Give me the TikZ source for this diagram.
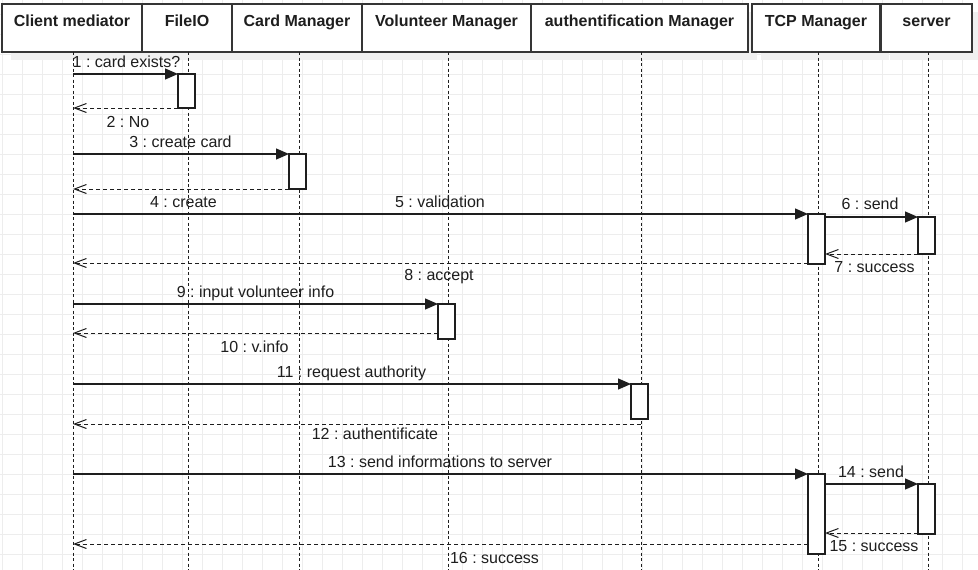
\documentclass[tikz,border=0pt]{standalone}
\usepackage{fontspec}
\setmainfont{Liberation Sans}
\usetikzlibrary{arrows.meta,calc}
\definecolor{gridc}{HTML}{EDEDED}
\definecolor{ink}{HTML}{1E1E1E}
\definecolor{shadowc}{HTML}{F0F0F0}
\frenchspacing
\begin{document}
\begin{tikzpicture}[x=1pt,y=-1pt,
  gridline/.style={gridc, line width=1pt},
  hdr/.style={draw=ink!90, line width=1.3pt, fill=white, minimum height=48pt, inner sep=0pt, outer sep=0pt, anchor=north west},
  hshadow/.style={fill=shadowc, draw=none, minimum height=48pt, inner sep=0pt, outer sep=0pt, anchor=north west},
  htxt/.style={font=\fontsize{16pt}{19pt}\selectfont\bfseries, text=ink, anchor=base, inner sep=0pt},
  lifeline/.style={ink, line width=1pt, dash pattern=on 3pt off 2.5pt},
  act/.style={draw=ink, line width=1.3pt, fill=white, minimum width=17pt, inner sep=0pt, outer sep=0pt, anchor=north west},
  msg/.style={ink, line width=1.2pt, -{Triangle[length=13pt,width=11pt]}},
  ret/.style={ink, line width=1pt, dash pattern=on 4pt off 3pt, -{Straight Barb[length=12pt,width=9pt,line width=1pt]}},
  mlab/.style={font=\fontsize{16pt}{19pt}\selectfont, text=ink, anchor=base, inner sep=0pt}]
\useasboundingbox (0,0) rectangle (978,570);
\fill[white] (0,0) rectangle (978,570);
% grid
\foreach \i in {0,...,48} \draw[gridline] (2.5+20*\i,0) -- (2.5+20*\i,570);
\foreach \j in {0,...,27} \draw[gridline] (0,14+20*\j) -- (978,14+20*\j);
% header shadows
\node[hshadow, minimum width=140pt] (s1) at (11,12) {};
\node[hshadow, minimum width=90pt]  (s2) at (151,12) {};
\node[hshadow, minimum width=130pt] (s3) at (241,12) {};
\node[hshadow, minimum width=169pt] (s4) at (371,12) {};
\node[hshadow, minimum width=217pt] (s5) at (540,12) {};
\node[hshadow, minimum width=128pt] (s6) at (761,12) {};
\node[hshadow, minimum width=91pt]  (s7) at (890,12) {};
% headers
\node[hdr, minimum width=140pt] (h1) at (2,4) {};
\node[hdr, minimum width=90pt]  (h2) at (142,4) {};
\node[hdr, minimum width=130pt] (h3) at (232,4) {};
\node[hdr, minimum width=169pt] (h4) at (362,4) {};
\node[hdr, minimum width=217pt] (h5) at (531,4) {};
\node[hdr, minimum width=128pt] (h6) at (752,4) {};
\node[hdr, minimum width=91pt]  (h7) at (881,4) {};
\node[htxt] (t1) at ($(h1.north)+(0,22)$) {Client mediator};
\node[htxt] (t2) at ($(h2.north)+(0,22)$) {FileIO};
\node[htxt] (t3) at ($(h3.north)+(0,22)$) {Card Manager};
\node[htxt] (t4) at ($(h4.north)+(0,22)$) {Volunteer Manager};
\node[htxt] (t5) at ($(h5.north)+(0,22)$) {authentification Manager};
\node[htxt] (t6) at ($(h6.north)+(0,22)$) {TCP Manager};
\node[htxt] (t7) at ($(h7.north)+(0,22)$) {server};
% lifelines
\coordinate (L1) at (73,52);
\coordinate (L2) at (188,52);
\coordinate (L3) at (299,52);
\coordinate (L4) at (448,52);
\coordinate (L5) at (641,52);
\coordinate (L6) at (818,52);
\coordinate (L7) at (928,52);
\coordinate (bottom) at (0,570);
\foreach \n in {1,...,7} \draw[lifeline] (L\n) -- (L\n |- bottom);
% activation boxes
\node[act, minimum height=34pt] (a1) at (178,74) {};
\node[act, minimum height=35pt] (a2) at (289,154) {};
\node[act, minimum height=50pt] (a3) at (808,214) {};
\node[act, minimum height=37pt] (a4) at (918,217) {};
\node[act, minimum height=35pt] (a5) at (438,304) {};
\node[act, minimum height=35pt] (a6) at (631,384) {};
\node[act, minimum height=80pt] (a7) at (808,474) {};
\node[act, minimum height=50pt] (a8) at (918,484) {};
% messages
\draw[msg] (a1.north west -| L1) -- (a1.north west);
\draw[ret] (a1.south west) -- (a1.south west -| L1);
\draw[msg] (a2.north west -| L1) -- (a2.north west);
\draw[ret] (a2.south west) -- (a2.south west -| L1);
\draw[msg] (a3.north west -| L1) -- (a3.north west);
\coordinate (m6s) at ($(a3.north east)+(0,3)$);
\draw[msg] (m6s) -- (m6s -| a4.west);
\draw[ret] (a4.south west) -- (a4.south west -| a3.east);
\coordinate (m8s) at ($(a3.south west)+(0,-1)$);
\draw[ret] (m8s) -- (m8s -| L1);
\draw[msg] (a5.north west -| L1) -- (a5.north west);
\coordinate (m10s) at ($(a5.south west)+(0,-6)$);
\draw[ret] (m10s) -- (m10s -| L1);
\draw[msg] (a6.north west -| L1) -- (a6.north west);
\coordinate (m12s) at ($(a6.south -| L5)+(0,5)$);
\draw[ret] (m12s) -- (m12s -| L1);
\draw[msg] (a7.north west -| L1) -- (a7.north west);
\coordinate (m14s) at (a8.north west -| a7.east);
\draw[msg] (m14s) -- (a8.north west);
\coordinate (m15s) at ($(a8.south west)+(0,-1)$);
\draw[ret] (m15s) -- (m15s -| a7.east);
\coordinate (m16s) at ($(a7.south west)+(0,-10)$);
\draw[ret] (m16s) -- (m16s -| L1);
% labels
\node[mlab] (l1)  at (126.5,67) {1 : card exists?};
\node[mlab] (l2)  at (128,127) {2 : No};
\node[mlab] (l3)  at (180.5,147) {3 : create card};
\node[mlab] (l4)  at (183.5,207) {4 : create};
\node[mlab] (l5)  at (440,207) {5 : validation};
\node[mlab] (l6)  at (870,209) {6 : send};
\node[mlab] (l7)  at (874.5,272) {7 : success};
\node[mlab] (l8)  at (439,280) {8 : accept};
\node[mlab] (l9)  at (255.5,297) {9 : input volunteer info};
\node[mlab] (l10) at (254.5,352) {10 : v.info};
\node[mlab] (l11) at (351.5,377) {11 : request authority};
\node[mlab] (l12) at (375,439) {12 : authentificate};
\node[mlab] (l13) at (440,467) {13 : send informations to server};
\node[mlab] (l14) at (871,477) {14 : send};
\node[mlab] (l15) at (874,551) {15 : success};
\node[mlab] (l16) at (494.5,563) {16 : success};
\end{tikzpicture}
\end{document}
